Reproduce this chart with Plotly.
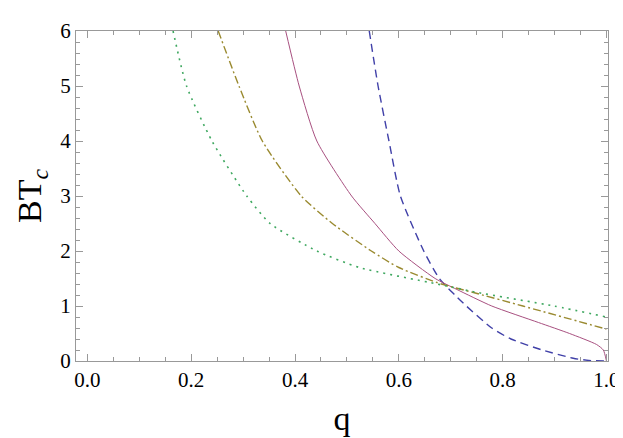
import plotly.graph_objects as go

# curves (q, BT_c)
q_blue = [0.543, 0.560, 0.581, 0.603, 0.648, 0.678, 0.708, 0.730, 0.779, 0.816, 0.876, 0.936, 0.966, 1.0]
bt_blue = [6.0, 5.0, 4.0, 3.0, 2.0, 1.5, 1.2, 1.0, 0.6, 0.4, 0.2, 0.05, 0.01, 0.0]

q_pink = [0.382, 0.408, 0.442, 0.509, 0.554, 0.600, 0.670, 0.712, 0.779, 0.869, 0.929, 0.981, 0.994, 1.0]
bt_pink = [6.0, 5.0, 4.0, 3.0, 2.5, 2.0, 1.5, 1.3, 1.0, 0.7, 0.5, 0.3, 0.2, 0.0]

q_gold = [0.252, 0.292, 0.337, 0.412, 0.472, 0.547, 0.600, 0.682, 0.742, 0.839, 1.0]
bt_gold = [6.0, 5.0, 4.0, 3.0, 2.5, 2.0, 1.7, 1.4, 1.25, 1.0, 0.58]

q_green = [0.165, 0.191, 0.240, 0.307, 0.352, 0.442, 0.524, 0.674, 0.749, 0.899, 1.0]
bt_green = [6.0, 5.0, 4.0, 3.0, 2.5, 2.0, 1.7, 1.4, 1.25, 1.0, 0.8]

fig = go.Figure()
fig.add_trace(go.Scatter(x=q_blue, y=bt_blue, mode='lines', line=dict(color='#4040a8', width=1.4, dash='8px,5px', shape='spline', smoothing=0.6)))
fig.add_trace(go.Scatter(x=q_pink, y=bt_pink, mode='lines', line=dict(color='#a85080', width=1, shape='spline', smoothing=0.6)))
fig.add_trace(go.Scatter(x=q_gold, y=bt_gold, mode='lines', line=dict(color='#9a8a30', width=1.4, dash='8px,3px,2px,3px', shape='spline', smoothing=0.6)))
fig.add_trace(go.Scatter(x=q_green, y=bt_green, mode='lines', line=dict(color='#3fa860', width=1.6, dash='2px,5px', shape='spline', smoothing=0.6)))

axis_common = dict(showgrid=False, zeroline=False, showline=True, linecolor='#999999', linewidth=1.2,
                   mirror='allticks', ticks='inside', ticklen=7, tickcolor='#999999',
                   tickfont=dict(family='Liberation Serif', size=21, color='black'))

fig.update_xaxes(range=[-0.022, 1.003], tickvals=[0, 0.2, 0.4, 0.6, 0.8, 1.0], ticktext=['0.0', '0.2', '0.4', '0.6', '0.8', '1.0'],
                 minor=dict(dtick=0.05, ticks='inside', ticklen=4, tickcolor='#999999'),
                 title=dict(text='q', font=dict(family='Liberation Serif', size=34, color='black'), standoff=14),
                 **axis_common)
fig.update_yaxes(range=[0, 6], dtick=1,
                 minor=dict(dtick=0.2, ticks='inside', ticklen=4, tickcolor='#999999'),
                 title=dict(text='BT<sub><i>c</i></sub>', font=dict(family='Liberation Serif', size=34, color='black'), standoff=8),
                 **axis_common)

fig.update_layout(width=623, height=438, showlegend=False,
                  plot_bgcolor='white', paper_bgcolor='white',
                  margin=dict(l=68, r=11, t=12, b=85))

fig.write_html("out.html")
